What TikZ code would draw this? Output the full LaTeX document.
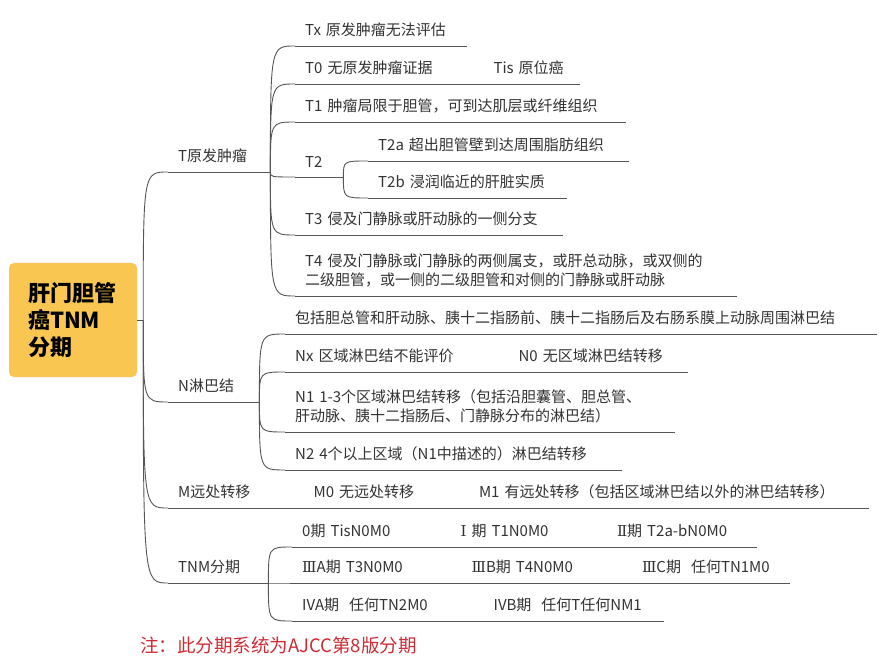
\documentclass[tikz,border=0pt]{standalone}
\usepackage{fontspec}
\setmainfont{Noto Sans CJK SC}
\newfontfamily\romanfont{DejaVu Serif}
\definecolor{wiregray}{RGB}{85,85,85}
\definecolor{textgray}{RGB}{51,51,51}
\definecolor{rootfill}{RGB}{250,198,82}
\definecolor{notered}{RGB}{206,44,52}
\begin{document}
\begin{tikzpicture}[x=1pt, y=-1pt,
    wire/.style={draw=wiregray, line width=0.9pt},
    link/.style={wire, to path={.. controls (\tikztostart |- \tikztotarget) .. (\tikztotarget)}},
    topic/.style={anchor=south west, inner xsep=10pt, inner ysep=9pt, text width=#1pt, align=left,
      font=\fontsize{15}{18.5}\selectfont, text=textgray,
      append after command={(\tikzlastnode.south west) edge[wire] (\tikzlastnode.south east)}},
    rootbox/.style={fill=rootfill, rounded corners=5pt, minimum width=128pt, minimum height=114pt,
      text width=90pt, inner xsep=19pt, align=left, font=\fontsize{22}{27}\selectfont\bfseries},
    note/.style={anchor=west, inner sep=0pt, text=notered, font=\fontsize{18.5}{22}\selectfont}]
      \path[use as bounding box, fill=white] (0,0) rectangle (881,671);

      % Root
      \node[rootbox] (root) at (73,320) {肝门胆管\\癌TNM\\分期};
      \coordinate (hub) at ([xshift=6pt]root.east);
      \draw[wire] (root.east) -- (hub);

      % Main branches
      \node[topic=82] (t) at (168,172) {T原发肿瘤};
      \node[topic=71] (n) at (168,402) {N淋巴结};
      \node[topic=115] (m) at (168,508) {M远处转移};
      \node[topic=80] (tnm) at (168,583) {TNM分期};
      \draw[link] (hub) to (t.south west);
      \draw[link] (hub) to (n.south west);
      \draw[link] (hub) to (m.south west);
      \draw[link] (hub) to (tnm.south west);

      % T (primary tumour)
      \node[topic=152] (tx) at (295,46) {Tx 原发肿瘤无法评估};
      \node[topic=168] (t0) at (295,84) {T0 无原发肿瘤证据};
      \node[topic=76] (tis) at (t0.south east) {Tis 原位癌};
      \node[topic=311] (t1) at (295,122) {T1 肿瘤局限于胆管，可到达肌层或纤维组织};
      \node[topic=28] (t2) at (295,177) {T2};
      \node[topic=241] (t2a) at (368,161) {T2a 超出胆管壁到达周围脂肪组织};
      \node[topic=179] (t2b) at (368,198) {T2b 浸润临近的肝脏实质};
      \node[topic=248] (t3) at (295,235) {T3 侵及门静脉或肝动脉的一侧分支};
      \node[topic=422] (t4) at (295,296) {T4 侵及门静脉或门静脉的两侧属支，或肝总动脉，或双侧的\\二级胆管，或一侧的二级胆管和对侧的门静脉或肝动脉};
      \draw[link] (t.south east) to (tx.south west);
      \draw[link] (t.south east) to (t0.south west);
      \draw[link] (t.south east) to (t1.south west);
      \draw[link] (t.south east) to (t2.south west);
      \draw[link] (t.south east) to (t3.south west);
      \draw[link] (t.south east) to (t4.south west);
      \draw[link] (t2.south east) to (t2a.south west);
      \draw[link] (t2.south east) to (t2b.south west);

      % N (lymph nodes)
      \node[topic=572] (nr) at (285,334) {包括胆总管和肝动脉、胰十二指肠前、胰十二指肠后及右肠系膜上动脉周围淋巴结};
      \node[topic=203] (nx) at (285,372) {Nx 区域淋巴结不能评价};
      \node[topic=159] (n0) at (nx.south east) {N0 无区域淋巴结转移};
      \node[topic=370] (n1) at (285,432) {N1 1-3个区域淋巴结转移（包括沿胆囊管、胆总管、\\肝动脉、胰十二指肠后、门静脉分布的淋巴结）};
      \node[topic=317] (n2) at (285,470) {N2 4个以上区域（N1中描述的）淋巴结转移};
      \draw[link] (n.south east) to (nr.south west);
      \draw[link] (n.south east) to (nx.south west);
      \draw[link] (n.south east) to (n1.south west);
      \draw[link] (n.south east) to (n2.south west);

      % M (distant metastasis)
      \node[topic=145] (m0) at (m.south east) {M0 无远处转移};
      \node[topic=380] (m1) at (m0.south east) {M1 有远处转移（包括区域淋巴结以外的淋巴结转移）};

      % TNM stages
      \node[topic=138] (s0) at (292,547) {0期 TisN0M0};
      \node[topic=136] (s1) at (s0.south east) {{\romanfont Ⅰ} 期 T1N0M0};
      \node[topic=130] (s2) at (s1.south east) {{\romanfont Ⅱ}期 T2a-bN0M0};
      \node[topic=149] (s3a) at (292,583) {{\romanfont Ⅲ}A期 T3N0M0};
      \node[topic=150] (s3b) at (s3a.south east) {{\romanfont Ⅲ}B期 T4N0M0};
      \node[topic=138] (s3c) at (s3b.south east) {{\romanfont Ⅲ}C期~ 任何TN1M0};
      \node[topic=171] (s4a) at (292,621) {IVA期~ 任何TN2M0};
      \node[topic=160] (s4b) at (s4a.south east) {IVB期~ 任何T任何NM1};
      \draw[link] (tnm.south east) to (s0.south west);
      \draw[link] (tnm.south east) to (s3a.south west);
      \draw[link] (tnm.south east) to (s4a.south west);

      % Footnote
      \node[note] (foot) at (140,645) {注：此分期系统为AJCC第8版分期};
    \end{tikzpicture}
\end{document}
